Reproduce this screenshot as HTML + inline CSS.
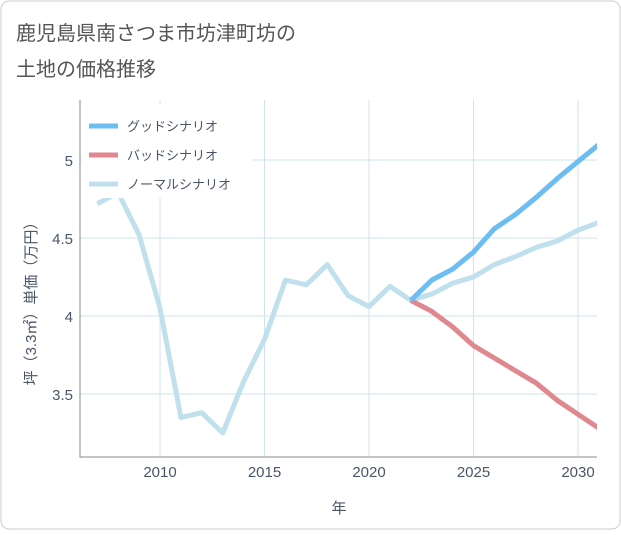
<!DOCTYPE html>
<html><head><meta charset="utf-8"><style>
body{margin:0;background:#fff;font-family:"Liberation Sans","Noto Sans CJK JP",sans-serif;}
</style></head><body>
<svg width="621" height="530" xmlns="http://www.w3.org/2000/svg" id="chart">
<rect x="1" y="1" width="619" height="528" rx="8" fill="#fff" stroke="#ccc"/>
<text x="16" y="40" font-size="20" fill="#555">鹿児島県南さつま市坊津町坊の</text>
<text x="16" y="76" font-size="20" fill="#555">土地の価格推移</text>
<g id="grid"></g>
<g id="axes"></g>
<g id="plot"></g>
<text x="339" y="513" font-size="15" fill="#4a5668" text-anchor="middle">年</text>
<text transform="translate(36,300) rotate(-90)" font-size="15" fill="#4a5668" text-anchor="middle">坪（3.3㎡）単価（万円）</text>
<g id="legend"></g>
</svg>
<script>
const years=[2007,2008,2009,2010,2011,2012,2013,2014,2015,2016,2017,2018,2019,2020,2021,2022];
const normalHist=[4.72,4.79,4.52,4.05,3.35,3.38,3.25,3.58,3.85,4.23,4.20,4.33,4.13,4.06,4.19,4.10];
const projYears=[2022,2023,2024,2025,2026,2027,2028,2029,2030,2031];
const goodVals=[4.10,4.23,4.30,4.41,4.56,4.65,4.76,4.88,4.99,5.10];
const badVals=[4.10,4.03,3.93,3.81,3.73,3.65,3.57,3.46,3.37,3.28];
const normalVals=[4.10,4.14,4.21,4.25,4.33,4.38,4.44,4.48,4.55,4.60];
const xTicks=[2010,2015,2020,2025,2030];
const yTicks=[3.5,4,4.5,5];
const L=80,R=597,T=100,B=457;
const X=v=>160+(v-2010)*(578-160)/20;
const Y=v=>316-(v-4)*156;
const NS="http://www.w3.org/2000/svg";
function mk(tag,attrs,parent){const e=document.createElementNS(NS,tag);for(const k in attrs)e.setAttribute(k,attrs[k]);parent.appendChild(e);return e;}
const grid=document.getElementById('grid'),axes=document.getElementById('axes'),plot=document.getElementById('plot'),leg=document.getElementById('legend');
xTicks.forEach(t=>{const l=mk('line',{x1:X(t),x2:X(t),y1:T,y2:B,stroke:'#cfe4ee'},grid);


const tx=mk('text',{x:X(t),y:477,'font-size':15,fill:'#4a5668','text-anchor':'middle'},axes);tx.textContent=t;

});
yTicks.forEach(t=>{const l=mk('line',{x1:L,x2:R,y1:Y(t),y2:Y(t),stroke:'#cfe4ee'},grid);


const tx=mk('text',{x:73,y:Y(t)+6,'font-size':15,fill:'#4a5668','text-anchor':'end'},axes);tx.textContent=t;

});
const ax=mk('path',{d:`M${L},${T}V${B}H${R}`,fill:'none',stroke:'#888'},axes);


const cp=mk('clipPath',{id:'clip'},plot);
mk('rect',{x:L,y:T,width:R-L,height:B-T},cp);
function line(xs,vs,color,name){const p=mk('path',{d:xs.map((x,i)=>(i?'L':'M')+X(x)+','+Y(vs[i])).join(''),fill:'none',stroke:color,'stroke-width':5,'stroke-linejoin':'round','clip-path':'url(#clip)'},plot);

}
line(years,normalHist,'#bfe0ec','normal-history-line');
line(projYears,normalVals,'#bfe0ec','normal-scenario-line');
line(projYears,badVals,'#e0888f','bad-scenario-line');
line(projYears,goodVals,'#6cbdf2','good-scenario-line');
const lb=mk('rect',{x:82,y:105,width:170,height:93,fill:'#fff'},leg);


[['グッドシナリオ','#6cbdf2','legend-good'],['バッドシナリオ','#e0888f','legend-bad'],['ノーマルシナリオ','#bfe0ec','legend-normal']].forEach((d,i)=>{
const g=mk('g',{},leg);


const y=126+i*29;
mk('line',{x1:89,x2:118,y1:y,y2:y,stroke:d[1],'stroke-width':5},g);
const t=mk('text',{x:127,y:y+5,'font-size':13,fill:'#4a5668'},g);t.textContent=d[0];});
</script>
</body></html>
